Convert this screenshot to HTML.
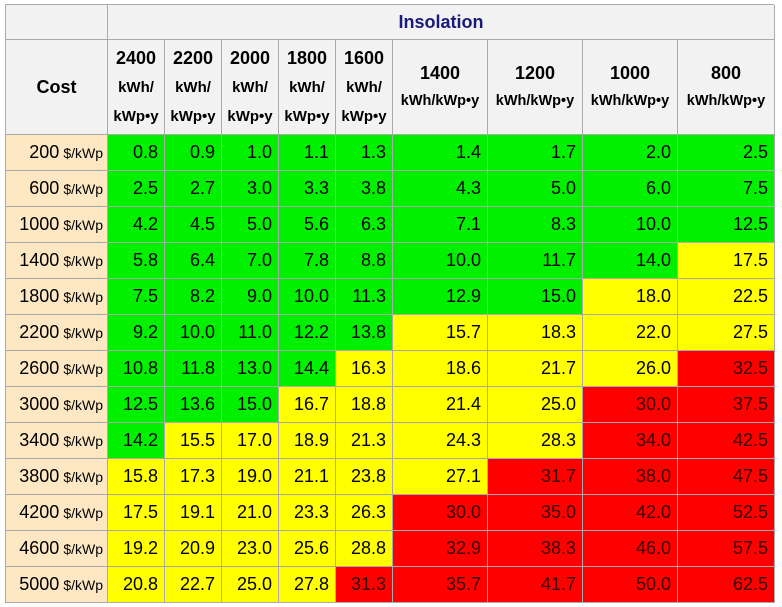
<!DOCTYPE html>
<html><head><meta charset="utf-8"><style>
body{margin:0;width:782px;height:607px;background:#fff;font-family:"Liberation Sans",Arial,sans-serif;position:relative;overflow:hidden}
.c{position:absolute;box-sizing:border-box;border-right:1px solid #aaa;border-bottom:1px solid #aaa;display:flex;align-items:center}
.h{background:#f2f2f2;font-weight:bold;justify-content:center;text-align:center;color:#000}
.d{justify-content:flex-end;padding-right:6px;font-size:18px;color:#000}
.cost{background:#fde8c3;justify-content:flex-end;padding-right:4px;font-size:18px}
.cost small{font-size:14px;margin-left:4px}
</style></head><body>
<div id="tbl" style="position:absolute;left:5px;top:4px;width:769px;height:599px;border-left:1px solid #aaa;border-top:1px solid #aaa;box-sizing:border-box"></div>
<script>
const insolation=[2400,2200,2000,1800,1600,1400,1200,1000,800];
const costs=[200,600,1000,1400,1800,2200,2600,3000,3400,3800,4200,4600,5000];
const values=[
[0.8,0.9,1.0,1.1,1.3,1.4,1.7,2.0,2.5],
[2.5,2.7,3.0,3.3,3.8,4.3,5.0,6.0,7.5],
[4.2,4.5,5.0,5.6,6.3,7.1,8.3,10.0,12.5],
[5.8,6.4,7.0,7.8,8.8,10.0,11.7,14.0,17.5],
[7.5,8.2,9.0,10.0,11.3,12.9,15.0,18.0,22.5],
[9.2,10.0,11.0,12.2,13.8,15.7,18.3,22.0,27.5],
[10.8,11.8,13.0,14.4,16.3,18.6,21.7,26.0,32.5],
[12.5,13.6,15.0,16.7,18.8,21.4,25.0,30.0,37.5],
[14.2,15.5,17.0,18.9,21.3,24.3,28.3,34.0,42.5],
[15.8,17.3,19.0,21.1,23.8,27.1,31.7,38.0,47.5],
[17.5,19.1,21.0,23.3,26.3,30.0,35.0,42.0,52.5],
[19.2,20.9,23.0,25.6,28.8,32.9,38.3,46.0,57.5],
[20.8,22.7,25.0,27.8,31.3,35.7,41.7,50.0,62.5]];
const colX=[5,107,164,221,278,335,392,487,582,677,774];
const T=document.getElementById('tbl');
function cell(x0,y0,x1,y1,cls,html,bg){
 const e=document.createElement('div');e.className='c '+cls;
 e.style.left=(x0-5)+'px';e.style.top=(y0-4)+'px';e.style.width=(x1-x0)+'px';e.style.height=(y1-y0)+'px';
 if(bg)e.style.background=bg;e.innerHTML=html;T.appendChild(e);return e;}
let e=cell(5,4,107,39,'h','');


e=cell(107,4,774,39,'h','<span style="color:#1a1a7a;font-size:18px">Insolation</span>');


e=cell(5,39,107,134,'h','<span style="font-size:18px">Cost</span>');


insolation.forEach((v,i)=>{
 const html=i<5?'<div><div style="font-size:18px;line-height:29px">'+v+'</div><div style="font-size:15px;line-height:29px">kWh/</div><div style="font-size:15px;line-height:29px">kWp•y</div></div>'
  :'<div><div style="font-size:18px;line-height:28px">'+v+'</div><div style="font-size:14.5px;line-height:28px">kWh/kWp•y</div></div>';
 const h=cell(colX[i+1],39,colX[i+2],134,'h',html);
 
 
});
costs.forEach((c,r)=>{
 const y0=134+r*36,y1=y0+36;
 const ce=cell(5,y0,107,y1,'cost',c+'<small>$/kWp</small>');
 
 
 values[r].forEach((v,i)=>{
  const bg=v<=15?'#00f000':(v<30?'#ffff00':'#ff0000');
  const d=cell(colX[i+1],y0,colX[i+2],y1,'d',v.toFixed(1),bg);
  if(v>=30)d.style.color='#3a0000';
  
  
 });
});
</script>
</body></html>
